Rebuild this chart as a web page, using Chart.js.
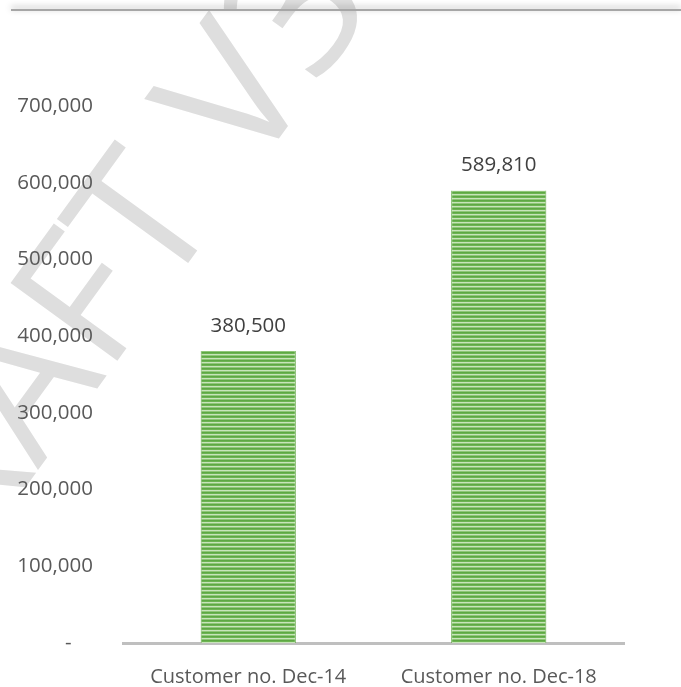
<!DOCTYPE html>
<html>
<head>
<meta charset="utf-8">
<script src="https://cdn.jsdelivr.net/npm/chart.js@4"></script>
<style>
  html, body { margin: 0; padding: 0; background: #fff; }
  #wrap { width: 681px; height: 687px; }
</style>
</head>
<body>
<div id="wrap"><canvas id="customerChart" width="681" height="687"></canvas></div>
<script>
const categories = ["Customer no. Dec-14", "Customer no. Dec-18"];
const customers = [380500, 589810];
const yTicks = [0, 100000, 200000, 300000, 400000, 500000, 600000, 700000];

const FONT = "'Open Sans', 'Liberation Sans', sans-serif";

// horizontal stripe fill like the Excel pattern
function stripePattern(ctx) {
    const p = document.createElement("canvas");
    p.width = 4; p.height = 4;
    const pc = p.getContext("2d");
    const rows = ["#5ea844", "#6db452", "#c8e4bb", "#8fc778"];
    rows.forEach((c, i) => { pc.fillStyle = c; pc.fillRect(0, i, 4, 1); });
    return ctx.createPattern(p, "repeat");
}

const backdrop = {
    id: "backdrop",
    beforeDraw(chart) {
        const ctx = chart.ctx;
        ctx.save();
        // faint watermark
        ctx.translate(378, 2);
        ctx.rotate(-54 * Math.PI / 180);
        ctx.font = "400 185px " + FONT;
        ctx.fillStyle = "#dedede";
        ctx.textAlign = "right";
        ctx.textBaseline = "alphabetic";
        ctx.fillText("DRAFT V3", 0, 0);
        ctx.restore();

        // grey rule across the top
        ctx.save();
        ctx.shadowColor = "rgba(0,0,0,0.35)";
        ctx.shadowBlur = 6;
        ctx.shadowOffsetY = -2;
        ctx.fillStyle = "#a6a6a6";
        ctx.fillRect(11, 9, 670, 2);
        ctx.restore();
    }
};

const barValues = {
    id: "barValues",
    afterDatasetsDraw(chart) {
        const ctx = chart.ctx;
        ctx.save();
        ctx.font = "20.5px " + FONT;
        ctx.fillStyle = "#404040";
        ctx.textAlign = "center";
        ctx.textBaseline = "middle";
        chart.getDatasetMeta(0).data.forEach((bar, i) => {
            ctx.fillText(customers[i].toLocaleString("en-US"), bar.x, bar.y - 25);
        });
        ctx.restore();
    }
};

const ctx = document.getElementById("customerChart").getContext("2d");

new Chart(ctx, {
    type: "bar",
    data: {
        labels: categories,
        datasets: [{
            data: customers,
            backgroundColor: stripePattern(ctx),
            borderColor: "#6aad4f",
            borderWidth: { left: 1, right: 1, top: 0, bottom: 0 },
            categoryPercentage: 1,
            barPercentage: 0.38
        }]
    },
    options: {
        responsive: false,
        animation: false,
        layout: { padding: { top: 106, right: 57, bottom: 0, left: 0 } },
        plugins: { legend: { display: false }, tooltip: { enabled: false } },
        scales: {
            x: {
                grid: { display: false, drawTicks: false },
                border: { color: "#bfbfbf", width: 3 },
                ticks: { color: "#595959", font: { family: FONT, size: 20 }, padding: 22 },
                afterFit: (s) => { s.height = 44; }
            },
            y: {
                min: 0,
                max: 700000,
                afterBuildTicks: (s) => { s.ticks = yTicks.map(v => ({ value: v })); },
                grid: { display: false, drawTicks: false },
                border: { display: false },
                ticks: {
                    color: "#595959",
                    font: { family: FONT, size: 20.5 },
                    padding: 30,
                    callback: (v) => v === 0 ? "-    " : v.toLocaleString("en-US")
                },
                afterFit: (s) => { s.width = 123; }
            }
        }
    },
    plugins: [backdrop, barValues]
});
</script>
</body>
</html>
